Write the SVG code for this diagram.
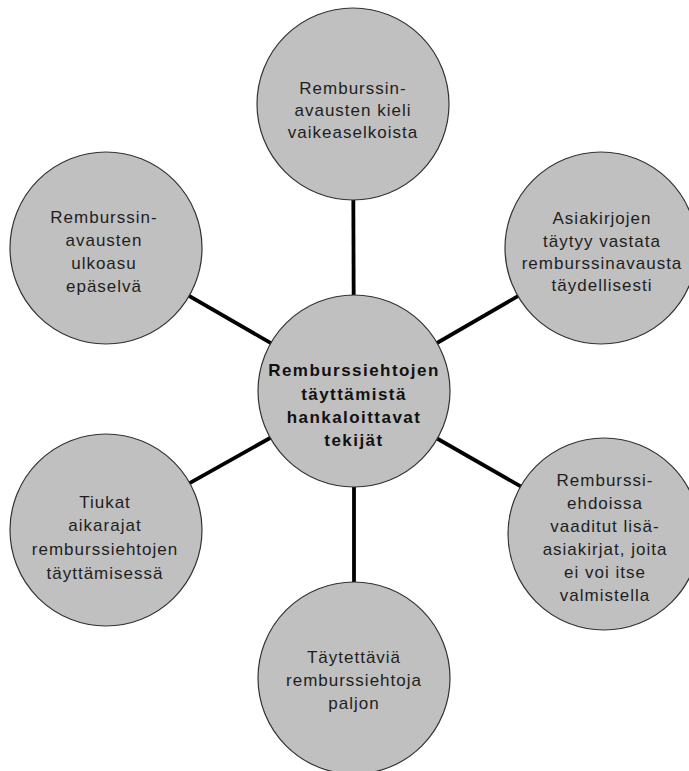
<svg xmlns="http://www.w3.org/2000/svg" width="689" height="771" viewBox="0 0 689 771">
<style>
.c{fill:#c0c0c0;stroke:#333333;stroke-width:1.2}
.t{font-family:"Liberation Sans",Arial,sans-serif;font-size:17px;fill:#1e1e1e;text-anchor:middle;letter-spacing:1px}
.b{font-family:"Liberation Sans",Arial,sans-serif;font-size:17px;font-weight:bold;fill:#111111;text-anchor:middle;letter-spacing:1.45px}
.l{stroke:#000000;stroke-width:3.8;fill:none}
</style>
<rect width="689" height="771" fill="#ffffff"/>
<g id="connectors">
<line class="l" x1="354" y1="391" x2="353" y2="104"/>
<line class="l" x1="354" y1="391" x2="601" y2="248"/>
<line class="l" x1="354" y1="391" x2="604" y2="534"/>
<line class="l" x1="354" y1="391" x2="354" y2="678"/>
<line class="l" x1="354" y1="391" x2="106" y2="530"/>
<line class="l" x1="354" y1="391" x2="106" y2="248"/>
</g>
<g id="n-top">
<circle class="c" cx="353" cy="104" r="96"/>
<text class="t" x="353" y="94">Remburssin-</text>
<text class="t" x="353" y="116">avausten kieli</text>
<text class="t" x="353" y="138">vaikeaselkoista</text>
</g>
<g id="n-right-top">
<circle class="c" cx="601" cy="248" r="96"/>
<text class="t" x="602" y="224">Asiakirjojen</text>
<text class="t" x="602" y="247">täytyy vastata</text>
<text class="t" x="602" y="269">remburssinavausta</text>
<text class="t" x="602" y="291">täydellisesti</text>
</g>
<g id="n-right-bottom">
<circle class="c" cx="604" cy="534" r="96"/>
<text class="t" x="605" y="486">Remburssi-</text>
<text class="t" x="605" y="509">ehdoissa</text>
<text class="t" x="605" y="532">vaaditut lisä-</text>
<text class="t" x="605" y="555">asiakirjat, joita</text>
<text class="t" x="605" y="578">ei voi itse</text>
<text class="t" x="605" y="601">valmistella</text>
</g>
<g id="n-bottom">
<circle class="c" cx="354" cy="678" r="96"/>
<text class="t" x="354" y="663">Täytettäviä</text>
<text class="t" x="354" y="686">remburssiehtoja</text>
<text class="t" x="354" y="709">paljon</text>
</g>
<g id="n-left-bottom">
<circle class="c" cx="106" cy="530" r="96"/>
<text class="t" x="105" y="508">Tiukat</text>
<text class="t" x="105" y="531">aikarajat</text>
<text class="t" x="105" y="555">remburssiehtojen</text>
<text class="t" x="105" y="579">täyttämisessä</text>
</g>
<g id="n-left-top">
<circle class="c" cx="106" cy="248" r="96"/>
<text class="t" x="104" y="223">Remburssin-</text>
<text class="t" x="104" y="246">avausten</text>
<text class="t" x="104" y="269">ulkoasu</text>
<text class="t" x="104" y="292">epäselvä</text>
</g>
<g id="n-center">
<circle class="c" cx="354" cy="391" r="96"/>
<text class="b" x="354" y="376">Remburssiehtojen</text>
<text class="b" x="354" y="400">täyttämistä</text>
<text class="b" x="354" y="423">hankaloittavat</text>
<text class="b" x="354" y="446">tekijät</text>
</g>
</svg>
